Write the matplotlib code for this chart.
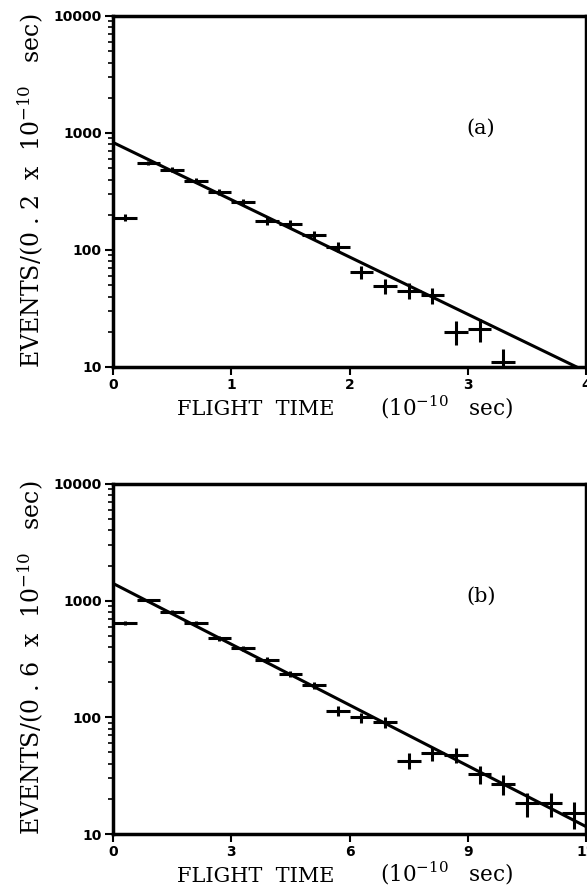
import matplotlib.pyplot as plt
import numpy as np
from matplotlib.ticker import LogLocator, NullFormatter, FixedLocator

plt.rcParams['mathtext.fontset'] = 'dejavuserif'

# Panel (a): 0.2 x 10^-10 s bins
t_a = np.array([0.1, 0.3, 0.5, 0.7, 0.9, 1.1, 1.3, 1.5, 1.7, 1.9,
                2.1, 2.3, 2.5, 2.7, 2.9, 3.1, 3.3])
n_a = np.array([189, 558, 487, 392, 313, 256, 177, 166, 134, 106,
                65, 49, 45, 41, 20, 21, 11])
fit_a = (830.0, 0.887)   # amplitude at t=0, lifetime

# Panel (b): 0.6 x 10^-10 s bins
t_b = np.array([0.3, 0.9, 1.5, 2.1, 2.7, 3.3, 3.9, 4.5, 5.1, 5.7,
                6.3, 6.9, 7.5, 8.1, 8.7, 9.3, 9.9, 10.5, 11.1, 11.7])
n_b = np.array([640, 1010, 803, 640, 475, 390, 310, 235, 189, 114,
                100, 91, 42.5, 49, 47.5, 32.7, 27, 18.3, 18.3, 15])
fit_b = (1406.0, 2.50)

SERIF = 'DejaVu Serif'


def panel(ax, t, n, width, fit, xmax, xticks, ylab, tag):
    err = np.sqrt(n)
    ax.errorbar(t, n, xerr=width / 2, yerr=err, fmt='none',
                ecolor='black', elinewidth=2.2, capsize=0, clip_on=True)
    tt = np.linspace(0, xmax, 200)
    amp, tau = fit
    ax.plot(tt, amp * np.exp(-tt / tau), color='black', lw=2.2)
    ax.set_yscale('log')
    ax.set_xlim(0, xmax)
    ax.set_ylim(10, 10000)
    ax.xaxis.set_major_locator(FixedLocator(xticks))
    ax.yaxis.set_major_locator(FixedLocator([10, 100, 1000, 10000]))
    ax.yaxis.set_minor_locator(LogLocator(base=10, subs=np.arange(2, 10)))
    ax.yaxis.set_minor_formatter(NullFormatter())
    ax.set_yticklabels(['10', '100', '1000', '10000'])
    ax.set_xticklabels([str(x) for x in xticks])
    ax.tick_params(axis='both', which='major', direction='out', length=6,
                   width=1.5, labelsize=10, pad=2)
    ax.tick_params(axis='y', which='minor', direction='out', length=3.5, width=1.2)
    for lab in ax.get_xticklabels() + ax.get_yticklabels():
        lab.set_fontweight('bold')
    for s in ax.spines.values():
        s.set_linewidth(2.5)
    # x axis title in two pieces, as in the original
    ax.text(0.302, -0.137, 'FLIGHT  TIME', transform=ax.transAxes,
            family=SERIF, fontsize=15, ha='center', va='baseline')
    ax.text(0.565, -0.137, '(10$^{-10}$   sec)', transform=ax.transAxes,
            family=SERIF, fontsize=15.5, ha='left', va='baseline')
    ax.text(-0.173, 0.503, ylab, transform=ax.transAxes, rotation=90,
            family=SERIF, fontsize=17, ha='center', va='center')
    ax.text(0.778, 0.68, tag, transform=ax.transAxes, family=SERIF,
            fontsize=15, ha='center', va='center')


fig = plt.figure(figsize=(5.87, 8.92), dpi=100)
ax1 = fig.add_axes([0.1925, 0.5886, 0.806, 0.3935])
ax2 = fig.add_axes([0.1925, 0.065, 0.806, 0.3924])

panel(ax1, t_a, n_a, 0.2, fit_a, 4, [0, 1, 2, 3, 4],
      'EVENTS/(0 . 2  x  10$^{-10}$   sec)', '(a)')
panel(ax2, t_b, n_b, 0.6, fit_b, 12, [0, 3, 6, 9, 12],
      'EVENTS/(0 . 6  x  10$^{-10}$   sec)', '(b)')

fig.savefig('out.png', dpi=100)
